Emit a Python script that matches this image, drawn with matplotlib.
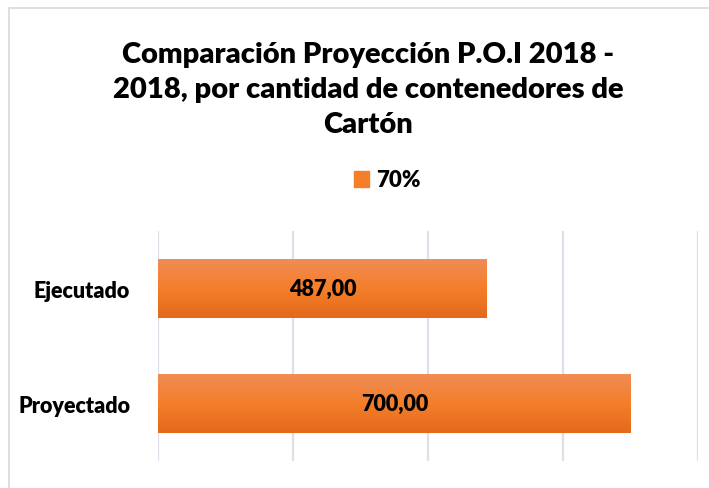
import numpy as np
import matplotlib.pyplot as plt
from matplotlib.patches import Rectangle, Patch
from matplotlib.colors import LinearSegmentedColormap

# Datos del grafico
categorias = ["Proyectado", "Ejecutado"]
valores = [700, 487]
etiquetas = ["700,00", "487,00"]
serie = "70%"
titulo = "Comparación Proyección P.O.I 2018 -\n2018, por cantidad de contenedores de\nCartón"

plt.rcParams['font.family'] = ['Lato', 'DejaVu Sans']
peso = 'heavy'

fig = plt.figure(figsize=(7.09, 4.89), dpi=100)
ax = fig.add_axes([158 / 709, 1 - 462 / 489, 540 / 709, 230 / 489])

# borde del area del grafico
fig.patches.append(Rectangle((9 / 709, -0.1), 1.1, 1 - 9 / 489 + 0.1, transform=fig.transFigure,
                             fill=False, edgecolor='#D9D9D9', linewidth=1.2))

y = np.arange(len(categorias))
barras = ax.barh(y, valores, height=0.51, color='#F47E2A', zorder=2)

# degradado vertical en cada barra
grad = np.linspace(0, 1, 100).reshape(-1, 1)
cmap = LinearSegmentedColormap.from_list('naranja', ['#F08C55', '#F47E2A', '#E4691B'])
for b in barras:
    x0, y0, w, h = b.get_x(), b.get_y(), b.get_width(), b.get_height()
    ax.imshow(grad, cmap=cmap, aspect='auto', extent=(x0, x0 + w, y0, y0 + h),
              origin='upper', zorder=3, interpolation='bicubic')

for b, txt in zip(barras, etiquetas):
    ax.text(b.get_x() + b.get_width() / 2, b.get_y() + b.get_height() / 2, txt,
            ha='center', va='center', fontsize=15.5, fontweight=peso, color='black', zorder=4)

ax.set_xlim(0, 800)
ax.set_ylim(-0.5, 1.5)
ax.set_xticks([0, 200, 400, 600, 800])
ax.set_xticklabels([])
ax.set_yticks(y)
ax.set_yticklabels(categorias, fontsize=15.5, fontweight=peso)
ax.tick_params(axis='both', length=0)
ax.tick_params(axis='y', pad=20)
ax.grid(axis='x', color='#DCE0E8', linewidth=1.6, zorder=0)
for s in ax.spines.values():
    s.set_visible(False)

fig.text(0.5 * (124 + 612) / 709, 1 - 90 / 489, titulo, ha='center', va='center',
         fontsize=21, fontweight=peso, linespacing=1.45)

fig.legend(handles=[Patch(color='#F47E2A', label=serie)], loc='center',
           bbox_to_anchor=(387 / 709, 1 - 181 / 489), frameon=False,
           prop={'weight': peso, 'size': 16},
           handlelength=0.7, handleheight=0.7, handletextpad=0.3)

fig.savefig('out.png', dpi=100)
